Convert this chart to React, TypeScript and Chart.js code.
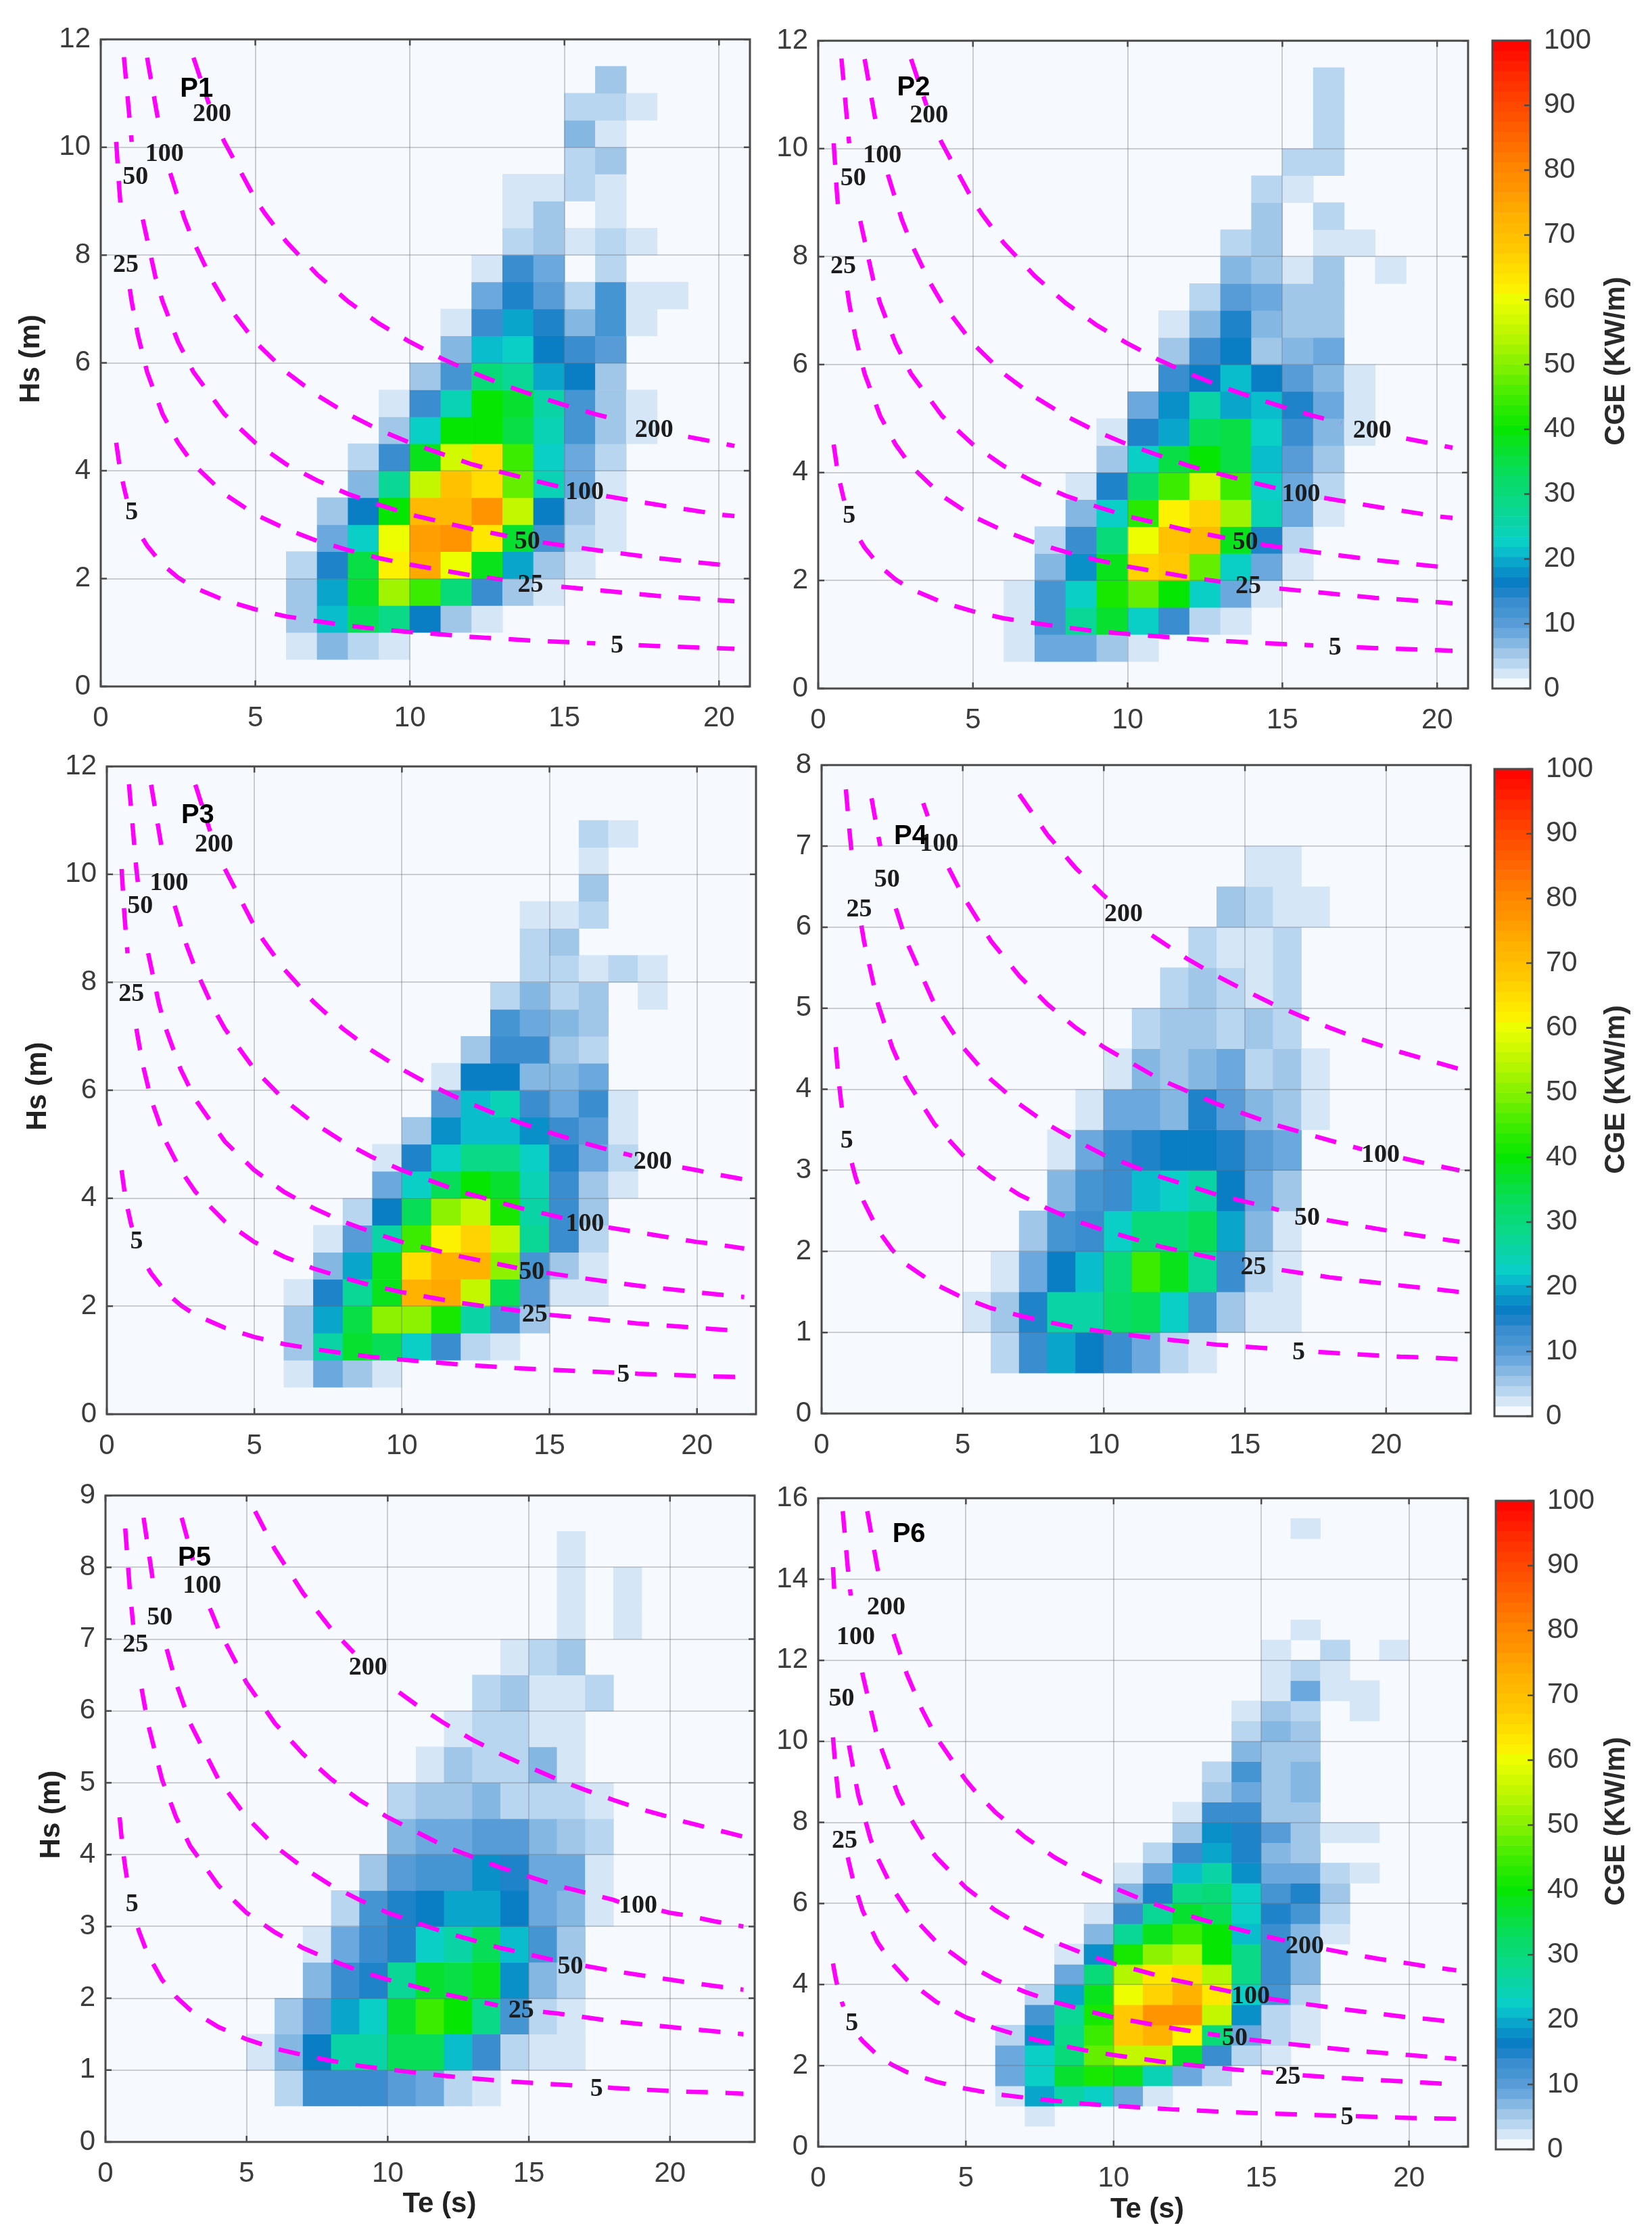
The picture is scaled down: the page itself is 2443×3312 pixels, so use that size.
import React, { useEffect, useRef } from "react";
import { Chart, registerables } from "chart.js";

Chart.register(...registerables);
Chart.defaults.font.family = '"Liberation Sans"';

// ---------- heat-map values: [Hs bin low edge, first Te bin, CGE per 1 s bin...] ----------
const P1_ROWS = [
  [0.5, 6, 2.3, 7, 4, 2.3],
  [1, 6, 5.5, 21, 34, 29, 16, 5.5, 2.3],
  [1.5, 6, 5.5, 19, 37, 52, 44, 31, 13.5, 6, 2.3],
  [2, 6, 4, 15.5, 35, 62, 74, 60, 39, 19, 6, 2.3],
  [2.5, 7, 8, 22.5, 60, 76, 77, 63, 36, 11.5, 4, 2.5],
  [3, 7, 5.5, 17, 40, 71, 71, 78, 55, 17, 5.5, 2.5],
  [3.5, 8, 7, 27, 55, 69, 65, 48, 24, 8, 2.5],
  [4, 8, 4, 14, 38, 57, 65, 45, 23, 8.5, 3.5],
  [4.5, 9, 6, 22, 40, 40, 35, 24, 12, 5.5, 2.3],
  [5, 9, 2.5, 12.5, 24, 40, 36, 25, 12, 5.5, 2.3],
  [5.5, 10, 5.5, 12, 31, 28, 19, 16, 5.5],
  [6, 11, 7, 21, 22, 17, 12.5, 10],
  [6.5, 11, 2.3, 12.5, 19, 14.5, 7, 11, 2.3],
  [7, 12, 9, 15, 10, 4, 11.5, 2.5, 2.5],
  [7.5, 12, 2.3, 12.5, 8, 0, 4],
  [8, 13, 4, 6, 2.3, 4, 2.3],
  [8.5, 13, 2.3, 5.5, 0, 2.5],
  [9, 13, 2.3, 2.3, 4, 2.5],
  [9.5, 15, 4, 5.5],
  [10, 15, 7, 2.3],
  [10.5, 15, 3.5, 3.5, 2.3],
  [11, 16, 5.5],
];
const P2_ROWS = [
  [0.5, 6, 2.3, 8, 9, 6, 2.3],
  [1, 6, 2.3, 11, 27, 36, 23, 14, 4, 2.3],
  [1.5, 6, 2.3, 11, 22, 42, 48, 40, 23, 9, 2.3],
  [2, 7, 7, 18, 38, 66, 68, 47, 23, 8, 2.3],
  [2.5, 7, 4, 14, 31, 60, 70, 71, 39, 15, 4],
  [3, 8, 7.5, 22, 43, 62, 67, 53, 24, 9, 2.3],
  [3.5, 8, 2.3, 14.5, 32, 44, 57, 44, 23, 9, 3.5],
  [4, 9, 5.5, 22, 35, 40, 35, 21, 9.5, 5],
  [4.5, 9, 2.3, 14.5, 20, 34, 35, 22, 12.5, 7, 2.3],
  [5, 10, 9, 18.5, 25, 20, 21, 15, 9, 2.3],
  [5.5, 11, 12.5, 17, 21, 17, 10, 7, 2.3],
  [6, 11, 5.5, 13, 17, 5.5, 7, 9],
  [6.5, 11, 2.3, 7, 14.5, 7, 5.5, 5.5],
  [7, 12, 4, 10, 9, 5.5, 5.5],
  [7.5, 13, 7, 5.5, 2.3, 5.5, 0, 2.5],
  [8, 13, 4, 5.5, 0, 2.3, 2.3],
  [8.5, 14, 5.5, 0, 4],
  [9, 14, 4, 2.3],
  [9.5, 15, 4, 4],
  [10, 16, 4],
  [10.5, 16, 4],
  [11, 16, 4],
];
const P3_ROWS = [
  [0.5, 6, 2.3, 9, 5.5, 2.3],
  [1, 6, 5.5, 25, 36, 34, 22, 13, 4, 2.3],
  [1.5, 6, 5.5, 20, 35, 50, 50, 42, 25, 11, 5],
  [2, 6, 2.3, 14.5, 27, 38, 72, 74, 56, 33, 10, 2.3, 2.3],
  [2.5, 7, 7, 20, 38, 65, 72, 72, 50, 11, 5.5, 2.5],
  [3, 7, 2.3, 10, 26, 44, 61, 66, 55, 27, 12.5, 4],
  [3.5, 8, 4, 17, 33, 50, 55, 42, 25, 12.5, 6],
  [4, 9, 9, 22, 34, 40, 36, 24, 13, 6, 2.5],
  [4.5, 9, 2.3, 15.5, 22, 29, 29, 22, 15.5, 9, 3.5],
  [5, 10, 5.5, 18, 21, 21, 18.5, 14, 10, 2.3],
  [5.5, 11, 10, 21, 24, 14, 9, 13, 2.3],
  [6, 11, 2.3, 16, 17, 7, 7, 9],
  [6.5, 12, 5.5, 13, 13, 5, 4],
  [7, 13, 11, 9, 6.5, 5.5],
  [7.5, 13, 4, 7, 4, 5.5, 0, 2.3],
  [8, 14, 4, 4, 2.3, 4, 2.3],
  [8.5, 14, 4, 5.5],
  [9, 14, 2.3, 2.3, 4],
  [9.5, 16, 5.5],
  [10, 16, 2.3],
  [10.5, 16, 4, 2.3],
];
const P4_ROWS = [
  [0.5, 6, 4, 13.5, 19, 16, 14, 8, 4, 2.3],
  [1, 5, 2.3, 5.5, 14.5, 25, 25, 32, 34, 23, 12, 5.5, 2.3, 2.3],
  [1.5, 6, 2.3, 9, 17, 21, 31, 44, 39, 28, 13, 4, 2.3],
  [2, 7, 5.5, 12, 14, 22, 30, 31, 34, 20, 7, 2.3],
  [2.5, 8, 7, 11, 14, 21, 22.5, 26, 16, 9, 5.5],
  [3, 8, 2.3, 8, 12.5, 15.5, 17, 17, 15.5, 10, 8.5],
  [3.5, 9, 2.3, 8.5, 8.5, 7, 14.5, 10, 7, 5.5, 2.3],
  [4, 10, 2.3, 7, 5.5, 7, 8.5, 4, 5.5, 2.3],
  [4.5, 11, 4, 5.5, 5.5, 4, 5.5, 4],
  [5, 12, 4, 5.5, 4, 2.3, 4],
  [5.5, 13, 4, 2.3, 2.3, 4],
  [6, 14, 5.5, 4, 2.3, 2.3],
  [6.5, 15, 2.3, 2.3],
];
const P5_ROWS = [
  [0.5, 6, 4, 12.5, 14, 14, 10, 8.5, 4, 2.3],
  [1, 5, 2.3, 7, 17, 26, 25, 33, 33, 21, 12.5, 4, 2.3, 2.3],
  [1.5, 6, 5.5, 10, 20, 22, 36, 45, 40, 29, 11, 4, 2.3],
  [2, 7, 7, 13.5, 15, 28, 36, 35, 38, 18.5, 7, 4],
  [2.5, 7, 2.3, 8.5, 12.5, 15.5, 23, 26, 33, 21, 12, 5.5],
  [3, 8, 4, 11, 14.5, 16, 19.5, 19.5, 16, 9, 7, 2.3],
  [3.5, 9, 5.5, 10, 12, 12, 18, 14.5, 9, 9, 2.3],
  [4, 10, 7, 8.5, 8.5, 10, 10, 7, 5.5, 4],
  [4.5, 10, 4, 5.5, 5.5, 7, 4.5, 4, 4, 2.3],
  [5, 11, 2.3, 5.5, 4, 4, 7, 2.3],
  [5.5, 12, 2.3, 4, 4, 2.3, 2.3],
  [6, 13, 4, 5.5, 2.3, 2.3, 4],
  [6.5, 14, 2.3, 4, 5.5],
  [7, 16, 2.3, 0, 2.3],
  [7.5, 16, 2.3, 0, 2.3],
  [8, 16, 2.3],
];
const P6_ROWS = [
  [0.5, 7, 2.3],
  [1, 6, 2.3, 19, 26, 22, 8.5, 2.3],
  [1.5, 6, 8, 22, 36, 41, 38, 24, 8, 4],
  [2, 6, 9, 22, 30, 47, 56, 55, 36, 13.5, 4, 2.3],
  [2.5, 6, 4, 18, 29, 44, 68, 72, 62, 31, 9, 4, 2.3],
  [3, 7, 12, 28, 42, 68, 78, 78, 55, 18, 4, 2.3],
  [3.5, 7, 4, 19, 38, 60, 67, 73, 63, 22, 11, 4],
  [4, 8, 9, 30, 54, 63, 65, 54, 29, 13, 7],
  [4.5, 8, 2.3, 18.5, 41, 50, 54, 40, 29, 13, 7],
  [5, 9, 7, 27, 38, 45, 40, 21, 13, 7, 2.3],
  [5.5, 9, 2.3, 14, 27, 36, 34, 22, 15, 12, 4],
  [6, 10, 7, 15, 29, 31, 22, 12, 15, 6],
  [6.5, 10, 2.3, 9, 20.5, 25, 18.5, 9, 9, 4, 2.3],
  [7, 11, 4, 13, 20, 15, 7, 5.5],
  [7.5, 12, 5.5, 18, 15, 10, 5, 2.3, 2.3],
  [8, 12, 2.3, 12.5, 12.5, 5, 5],
  [8.5, 13, 5.5, 9, 5, 7],
  [9, 13, 4, 11, 5, 7],
  [9.5, 14, 7, 5, 5.5],
  [10, 14, 4, 7, 5.5],
  [10.5, 14, 2.3, 5.5, 4, 0, 2.3],
  [11, 15, 2.3, 8, 2.3, 2.3],
  [11.5, 15, 2.3, 4, 2.3],
  [12, 15, 2.3, 0, 4, 0, 2.3],
  [12.5, 16, 2.3],
  [15, 16, 2.3],
];

// ---------- power iso-lines ----------
const CURVE_NAMES = ["5", "25", "50", "100", "200"];
const C5_TE = [0.5, 0.6, 0.7, 0.8, 1, 1.2, 1.5, 2, 2.5, 3, 4, 5, 6, 7, 8, 9, 10, 12, 14, 16, 18, 20, 20.5, 21.6, 22.6];
const C5_HS = [4.52, 4.12, 3.82, 3.57, 3.19, 2.92, 2.61, 2.26, 2.02, 1.84, 1.6, 1.43, 1.3, 1.21, 1.13, 1.06, 1.01, 0.92, 0.85, 0.8, 0.75, 0.71, 0.7, 0.69, 0.67];
const C25_TE = [0.5, 0.6, 0.7, 0.86, 1, 1.2, 1.5, 2, 2.5, 3, 4, 5, 6, 7, 8, 9, 10, 12, 14, 16, 18, 20, 20.5, 21.6, 22.6];
const C25_HS = [10.1, 9.22, 8.54, 7.7, 7.14, 6.52, 5.83, 5.05, 4.52, 4.12, 3.57, 3.19, 2.92, 2.7, 2.53, 2.38, 2.26, 2.06, 1.91, 1.79, 1.68, 1.6, 1.58, 1.54, 1.5];
const C50_TE = [0.5, 0.6, 0.75, 1, 1.35, 1.77, 2, 2.5, 3, 4, 5, 6, 7, 8, 9, 10, 12, 14, 16, 18, 20, 20.5, 21.6, 22.6];
const C50_HS = [14.3, 13.04, 11.67, 10.1, 8.69, 7.59, 7.14, 6.39, 5.83, 5.05, 4.52, 4.12, 3.82, 3.57, 3.37, 3.19, 2.92, 2.7, 2.53, 2.38, 2.26, 2.23, 2.17, 2.12];
const C100_TE = [0.83, 1, 1.2, 1.5, 2, 2.7, 3, 3.6, 4, 5, 6, 7, 8, 9, 10, 12, 14, 16, 18, 20, 20.5, 21.6, 22.6];
const C100_HS = [15.68, 14.29, 13.04, 11.66, 10.1, 8.69, 8.25, 7.53, 7.14, 6.39, 5.83, 5.4, 5.05, 4.76, 4.52, 4.12, 3.82, 3.57, 3.37, 3.19, 3.16, 3.07, 3.0];
const C200_TE = [1.66, 2, 2.5, 3, 3.5, 4, 5, 5.3, 6, 7, 8, 9, 10, 11, 12, 13, 14, 15, 16, 17, 18, 19, 20, 20.5, 21.6, 22.6];
const C200_HS = [15.68, 14.29, 12.78, 11.66, 10.8, 10.1, 9.04, 8.78, 8.25, 7.64, 7.14, 6.73, 6.39, 6.09, 5.83, 5.6, 5.4, 5.22, 5.05, 4.9, 4.76, 4.63, 4.52, 4.46, 4.35, 4.25];
const CURVES = [[C5_TE, C5_HS], [C25_TE, C25_HS], [C50_TE, C50_HS], [C100_TE, C100_HS], [C200_TE, C200_HS]];

// Breaks of each line around its printed label: [curve index, Te, Hs, Te, Hs]
const GAPS_P1 = [
  [4, 3.5, 10.8, 3.95, 10.16], [4, 16.9, 4.92, 19, 4.63],
  [3, 1.9, 10.36, 2.25, 9.52], [3, 14.95, 3.69, 16.35, 3.53],
  [2, 1, 10.1, 1.36, 8.66], [2, 13.15, 2.79, 14.3, 2.67],
  [1, 0.66, 8.79, 0.94, 7.37], [1, 13, 1.98, 14.9, 1.85],
  [0, 0.84, 3.48, 1.36, 2.74], [0, 16, 0.8, 17.4, 0.765],
];
const GAPS_P3 = [
  [4, 3.5, 10.8, 4, 10.1], [4, 17.8, 4.79, 19.5, 4.57],
  [3, 1.9, 10.36, 2.3, 9.42], [3, 15.5, 3.63, 17, 3.46],
  [2, 1.05, 9.86, 1.4, 8.54], [2, 13.9, 2.71, 14.9, 2.62],
  [1, 0.7, 8.54, 1, 7.14], [1, 14, 1.91, 15, 1.84],
  [0, 0.85, 3.46, 1.4, 2.7], [0, 17.2, 0.77, 17.9, 0.755],
];
const GAPS_P4 = [
  [3, 3.76, 7.37, 4.5, 6.73], [3, 19.15, 3.26, 20.6, 3.15],
  [2, 2.08, 7, 2.63, 6.23], [2, 16.2, 2.51, 17.9, 2.39],
  [1, 1.07, 6.9, 1.41, 6.02], [1, 14.5, 1.88, 16.3, 1.77],
  [0, 0.77, 3.64, 1.07, 3.09], [0, 16.3, 0.79, 17.6, 0.76],
  [4, 10.1, 6.36, 11.7, 5.9],
];
const GAPS_P5 = [
  [3, 3.1, 8.1, 3.7, 7.43], [3, 18.2, 3.34, 19.7, 3.22],
  [2, 1.75, 7.63, 2.17, 6.86], [2, 15.9, 2.53, 17, 2.45],
  [1, 0.98, 7.2, 1.28, 6.31], [1, 13.9, 1.9, 15.5, 1.81],
  [0, 0.8, 3.57, 1.15, 2.98], [0, 16.9, 0.78, 17.8, 0.757],
  [4, 8.8, 6.81, 10.4, 6.26],
];
const GAPS_P6 = [
  [4, 2.1, 13.95, 2.55, 12.65], [4, 15.8, 5.08, 17.2, 4.87],
  [3, 1.1, 13.6, 1.49, 11.7], [3, 14, 3.82, 15.2, 3.66],
  [2, 0.56, 13.5, 1.04, 9.9], [2, 13.6, 2.74, 14.6, 2.64],
  [1, 0.75, 8.25, 1, 7.14], [1, 15.4, 1.82, 16.4, 1.76],
  [0, 0.85, 3.46, 1.4, 2.7], [0, 17.7, 0.76, 18.2, 0.75],
];

// Printed labels: [text, Te, Hs]
const LABELS_P1 = [["200", 3.6, 10.63], ["100", 2.06, 9.89], ["50", 1.12, 9.47], ["25", 0.81, 7.84], ["5", 1, 3.24], ["200", 17.9, 4.78], ["100", 15.65, 3.62], ["50", 13.8, 2.71], ["25", 13.9, 1.9], ["5", 16.7, 0.78]];
const LABELS_P2 = [["200", 3.58, 10.63], ["100", 2.07, 9.9], ["50", 1.13, 9.47], ["25", 0.81, 7.84], ["5", 1, 3.22], ["200", 17.9, 4.79], ["100", 15.6, 3.62], ["50", 13.8, 2.73], ["25", 13.9, 1.91], ["5", 16.7, 0.78]];
const LABELS_P3 = [["200", 3.63, 10.57], ["100", 2.11, 9.86], ["50", 1.13, 9.43], ["25", 0.83, 7.8], ["5", 1.01, 3.22], ["200", 18.5, 4.69], ["100", 16.2, 3.54], ["50", 14.4, 2.65], ["25", 14.5, 1.86], ["5", 17.5, 0.75]];
const LABELS_P4 = [["100", 4.16, 7.04], ["50", 2.32, 6.6], ["25", 1.33, 6.23], ["5", 0.89, 3.38], ["200", 10.7, 6.17], ["100", 19.8, 3.2], ["50", 17.2, 2.43], ["25", 15.3, 1.82], ["5", 16.9, 0.77]];
const LABELS_P5 = [["100", 3.42, 7.76], ["50", 1.92, 7.31], ["25", 1.06, 6.94], ["5", 0.94, 3.32], ["200", 9.3, 6.62], ["100", 18.87, 3.3], ["50", 16.47, 2.46], ["25", 14.73, 1.84], ["5", 17.4, 0.75]];
const LABELS_P6 = [["200", 2.3, 13.33], ["100", 1.27, 12.6], ["50", 0.79, 11.07], ["25", 0.89, 7.58], ["5", 1.14, 3.07], ["200", 16.47, 4.97], ["100", 14.64, 3.74], ["50", 14.1, 2.7], ["25", 15.9, 1.75], ["5", 17.9, 0.74]];

const COLORBAR_TICKS = [0, 10, 20, 30, 40, 50, 60, 70, 80, 90, 100];

// ---------- colour map ----------
const STOP_VALUES = [0.8, 2.3, 3.9, 5.5, 7, 8.6, 10.2, 11.7, 13.3, 14.8, 16.4, 18, 19.5, 21, 22.6, 24.2, 28, 33, 38, 40, 45, 49, 53, 56, 60, 62, 65, 68, 73, 77, 80, 85, 90, 95, 100];
const STOP_COLORS = ["#F6FAFE", "#D6E6F6", "#B9D6F0", "#9FC6E8", "#85B8E2", "#6AA8DD", "#569CD6", "#4595D2", "#3A8ECF", "#1F83C8", "#0A7EC4", "#0A90C8", "#0AA5CA", "#0ABCCC", "#0ACFC8", "#0AD2B4", "#0AD890", "#08DC60", "#08E220", "#06E600", "#40EC00", "#78F000", "#A8F500", "#C8F800", "#ECFF00", "#FFF000", "#FFDC00", "#FFC800", "#FFB000", "#FF9600", "#FF8800", "#FF6600", "#FF4800", "#FF2800", "#FF0000"];
const LEVELS = 64;
const rgb = (h: string) => [1, 3, 5].map((i) => parseInt(h.slice(i, i + 2), 16));
function colorOf(v: number) {
  const q = ((Math.min(LEVELS - 1, Math.floor((v / 100) * LEVELS)) + 0.5) * 100) / LEVELS;
  if (q <= STOP_VALUES[0]) return STOP_COLORS[0];
  for (let i = 1; i < STOP_VALUES.length; i++) {
    if (q <= STOP_VALUES[i]) {
      const t = (q - STOP_VALUES[i - 1]) / (STOP_VALUES[i] - STOP_VALUES[i - 1]);
      const a = rgb(STOP_COLORS[i - 1]);
      const b = rgb(STOP_COLORS[i]);
      return `rgb(${a.map((c, k) => Math.round(c + (b[k] - c) * t)).join(",")})`;
    }
  }
  return "#FF0000";
}

// ---------- layout ----------
const INK = "#3c3c3c";
const PLOT_BG = "#F6FAFE";
const TICK_FONT = { size: 42, family: '"Liberation Sans"' };
const TITLE_FONT = { size: 42, weight: "bold", family: '"Liberation Sans"' };

const PANELS = [
  { name: "P1", rows: P1_ROWS, gaps: GAPS_P1, labels: LABELS_P1, plot: [149, 58, 1109, 1015], canvasL: 0, canvasR: 1125, extraB: 70, xMax: 21, yMax: 12, yStep: 2, hsLimit: 11.75, teEnd: 20.5, tag: [3.1, 11.08], yTitlePad: 21, yShift: -6 },
  { name: "P2", rows: P2_ROWS, gaps: GAPS_P1, labels: LABELS_P2, plot: [1210, 60, 2171, 1018], canvasL: 1130, canvasR: 2185, extraB: 70, xMax: 21, yMax: 12, yStep: 2, hsLimit: 11.75, teEnd: 20.5, tag: [3.08, 11.12] },
  { name: "P3", rows: P3_ROWS, gaps: GAPS_P3, labels: LABELS_P3, plot: [158, 1133, 1118, 2091], canvasL: 0, canvasR: 1125, extraB: 70, xMax: 22, yMax: 12, yStep: 2, hsLimit: 11.75, teEnd: 21.6, tag: [3.08, 11.09], yTitlePad: 31, yShift: -6 },
  { name: "P4", rows: P4_ROWS, gaps: GAPS_P4, labels: LABELS_P4, plot: [1215, 1131, 2175, 2090], canvasL: 1130, canvasR: 2190, extraB: 70, xMax: 23, yMax: 8, yStep: 1, hsLimit: 7.75, teEnd: 22.6, tag: [3.15, 7.12] },
  { name: "P5", rows: P5_ROWS, gaps: GAPS_P5, labels: LABELS_P5, plot: [156, 2211, 1116, 3167], canvasL: 0, canvasR: 1125, extraB: 140, xMax: 23, yMax: 9, yStep: 1, hsLimit: 8.8, teEnd: 22.6, tag: [3.15, 8.13], yTitlePad: 51, xTitlePad: 22, yShift: -6, xShift: 14 },
  { name: "P6", rows: P6_ROWS, gaps: GAPS_P6, labels: LABELS_P6, plot: [1210, 2215, 2171, 3174], canvasL: 1130, canvasR: 2185, extraB: 138, xMax: 22, yMax: 16, yStep: 2, hsLimit: 15.75, teEnd: 21.6, tag: [3.07, 15.1], xTitlePad: 19, xShift: 6 },
];
const COLORBARS = [
  { plot: [2207, 60, 2263, 1018], titleY: 534 },
  { plot: [2210, 1137, 2266, 2094], titleY: 1611 },
  { plot: [2212, 2219, 2268, 3178], titleY: 2693 },
];

function nudgeTitle(scale: any, dx: number, dy: number) {
  if (scale.__nudged) return;
  scale.__nudged = true;
  const draw = scale.drawTitle.bind(scale);
  scale.drawTitle = (...args: any[]) => {
    scale.ctx.save();
    scale.ctx.translate(dx, dy);
    draw(...args);
    scale.ctx.restore();
  };
}

function drawFrame(chart: any, tickLen: number, sides: string) {
  const { ctx, chartArea: a } = chart;
  ctx.save();
  ctx.strokeStyle = "#4a4a4a";
  ctx.lineWidth = 3;
  ctx.strokeRect(a.left, a.top, a.right - a.left, a.bottom - a.top);
  ctx.lineWidth = 2.5;
  ctx.beginPath();
  if (sides.includes("r") || sides.includes("l")) {
    for (const t of chart.scales.y.ticks) {
      const p = chart.scales.y.getPixelForValue(t.value);
      if (sides.includes("l")) { ctx.moveTo(a.left, p); ctx.lineTo(a.left + tickLen, p); }
      if (sides.includes("r")) { ctx.moveTo(a.right, p); ctx.lineTo(a.right - tickLen, p); }
    }
  }
  if (sides.includes("b")) {
    for (const t of chart.scales.x.ticks) {
      const p = chart.scales.x.getPixelForValue(t.value);
      ctx.moveTo(p, a.bottom); ctx.lineTo(p, a.bottom - tickLen);
      ctx.moveTo(p, a.top); ctx.lineTo(p, a.top + tickLen);
    }
  }
  ctx.stroke();
  ctx.restore();
}

function cellsOf(rows: number[][]) {
  const out: any[] = [];
  for (const r of rows) {
    const [hs, te, ...vals] = r;
    vals.forEach((v, i) => {
      if (v > 0) out.push({ x: te + i + 0.5, y: [hs, hs + 0.5], v });
    });
  }
  return out;
}

function curveData(idx: number, p: any) {
  const [te, hs] = CURVES[idx];
  const pts: any[] = [];
  te.forEach((t, i) => {
    if (t <= p.teEnd && hs[i] <= p.hsLimit) pts.push({ x: t, y: hs[i] });
  });
  const gaps = p.gaps.filter((g: number[]) => g[0] === idx).sort((a: number[], b: number[]) => a[1] - b[1]);
  let res = pts;
  for (const g of gaps) {
    const before = res.filter((q) => q.x < g[1]);
    const after = res.filter((q) => q.x > g[3]);
    res = [...before, { x: g[1], y: g[2] }, { x: (g[1] + g[3]) / 2, y: null }, { x: g[3], y: g[4] }, ...after];
  }
  return res;
}

function panelConfig(p: any) {
  const [l, t, r, b] = p.plot;
  const cells = cellsOf(p.rows);
  const lines = CURVE_NAMES.map((name, idx) => ({
    type: "line",
    label: `${name} kW/m`,
    data: curveData(idx, p),
    borderColor: "#FF00FF",
    borderWidth: 6.5,
    borderDash: [32, 26],
    borderCapStyle: "butt",
    pointRadius: 0,
    tension: 0,
    fill: false,
    spanGaps: false,
    order: 0,
  }));
  const overlay = {
    id: "panelOverlay",
    beforeDraw(chart: any) {
      const { ctx, chartArea: a } = chart;
      ctx.save();
      ctx.fillStyle = PLOT_BG;
      ctx.fillRect(a.left, a.top, a.right - a.left, a.bottom - a.top);
      ctx.restore();
    },
    afterDraw(chart: any) {
      const { ctx, scales } = chart;
      drawFrame(chart, 9, "lrb");
      ctx.save();
      ctx.textAlign = "center";
      ctx.textBaseline = "middle";
      ctx.fillStyle = "#1c1c1c";
      ctx.font = 'bold 38px "Liberation Serif"';
      for (const [txt, x, y] of p.labels) {
        ctx.fillText(txt, scales.x.getPixelForValue(x), scales.y.getPixelForValue(y) + 2);
      }
      ctx.fillStyle = "#000";
      ctx.font = 'bold 40px "Liberation Sans"';
      ctx.fillText(p.name, scales.x.getPixelForValue(p.tag[0]), scales.y.getPixelForValue(p.tag[1]));
      ctx.restore();
    },
  };
  const canvasT = t - 40;
  const canvasB = b + p.extraB;
  return {
    width: p.canvasR - p.canvasL,
    height: canvasB - canvasT,
    left: p.canvasL,
    top: canvasT,
    config: {
      type: "bar",
      plugins: [overlay],
      data: {
        datasets: [
          {
            type: "bar",
            label: "CGE (KW/m)",
            data: cells,
            backgroundColor: cells.map((c) => colorOf(c.v)),
            borderWidth: 0,
            barPercentage: 1,
            categoryPercentage: 1,
            grouped: false,
            order: 1,
          },
          ...lines,
        ],
      },
      options: {
        animation: false,
        responsive: false,
        devicePixelRatio: 1,
        events: [],
        layout: { padding: { top: 40, right: p.canvasR - r, left: 0, bottom: 0 } },
        plugins: { legend: { display: false }, tooltip: { enabled: false }, title: { display: false } },
        scales: {
          x: {
            type: "linear",
            min: 0,
            max: p.xMax,
            offset: false,
            afterFit: (s: any) => {
              s.height = canvasB - b;
              if (p.xShift) nudgeTitle(s, p.xShift, 0);
            },
            grid: { offset: false, color: "rgba(105,110,120,0.32)", lineWidth: 2, z: 1, drawTicks: false },
            border: { display: false },
            ticks: { stepSize: 5, includeBounds: false, color: INK, font: TICK_FONT, padding: 22, maxRotation: 0 },
            title: p.xTitlePad
              ? { display: true, text: "Te (s)", color: "#222", font: TITLE_FONT, padding: { top: 0, bottom: p.xTitlePad } }
              : { display: false },
          },
          y: {
            type: "linear",
            min: 0,
            max: p.yMax,
            afterFit: (s: any) => {
              s.width = l - p.canvasL;
              if (p.yShift) nudgeTitle(s, 0, p.yShift);
            },
            grid: { color: "rgba(105,110,120,0.32)", lineWidth: 2, z: 1, drawTicks: false },
            border: { display: false },
            ticks: { stepSize: p.yStep, includeBounds: false, color: INK, font: TICK_FONT, padding: 15 },
            title: p.yTitlePad
              ? { display: true, text: "Hs (m)", color: "#222", font: TITLE_FONT, padding: { top: p.yTitlePad, bottom: 0 } }
              : { display: false },
          },
        },
      },
    },
  };
}

function colorbarConfig(cb: any) {
  const [l, t, r, b] = cb.plot;
  const levels = Array.from({ length: LEVELS }, (_, i) => ((i + 0.5) * 100) / LEVELS);
  const canvasL = l - 6;
  const canvasR = 2443;
  const pad = 60;
  const overlay = {
    id: "cbOverlay",
    afterDraw(chart: any) {
      drawFrame(chart, 9, "r");
      const { ctx } = chart;
      ctx.save();
      ctx.translate(2390 - canvasL, cb.titleY - (t - pad));
      ctx.rotate(-Math.PI / 2);
      ctx.textAlign = "center";
      ctx.textBaseline = "middle";
      ctx.fillStyle = "#2a2a2a";
      ctx.font = 'bold 42px "Liberation Sans"';
      ctx.fillText("CGE (KW/m)", 0, 0);
      ctx.restore();
    },
  };
  return {
    width: canvasR - canvasL,
    height: b - t + 2 * pad,
    left: canvasL,
    top: t - pad,
    config: {
      type: "bar",
      plugins: [overlay],
      data: {
        datasets: [
          {
            label: "CGE (KW/m)",
            data: levels.map((y) => ({ x: 1, y })),
            backgroundColor: levels.map((y) => colorOf(y)),
            borderWidth: 0,
            barPercentage: 1,
            categoryPercentage: 1,
            grouped: false,
          },
        ],
      },
      options: {
        indexAxis: "y",
        animation: false,
        responsive: false,
        devicePixelRatio: 1,
        events: [],
        layout: { padding: { top: pad, bottom: pad, left: 6, right: 0 } },
        plugins: { legend: { display: false }, tooltip: { enabled: false } },
        scales: {
          x: { type: "linear", min: 0, max: 1, display: false, offset: false, grid: { display: false } },
          y: {
            type: "linear",
            position: "right",
            min: COLORBAR_TICKS[0],
            max: COLORBAR_TICKS[COLORBAR_TICKS.length - 1],
            offset: false,
            afterFit: (s: any) => { s.width = canvasR - r; },
            grid: { display: false, offset: false, drawTicks: false },
            border: { display: false },
            ticks: { stepSize: 10, color: INK, font: TICK_FONT, padding: 20 },
          },
        },
      },
    },
  };
}

function ChartBox({ spec }: { spec: any }) {
  const ref = useRef<HTMLCanvasElement>(null);
  useEffect(() => {
    const chart = new Chart(ref.current as any, spec.config as any);
    return () => chart.destroy();
  }, []);
  return (
    <canvas
      ref={ref}
      width={spec.width}
      height={spec.height}
      style={{ position: "absolute", left: spec.left, top: spec.top, width: spec.width, height: spec.height, display: "block" }}
    />
  );
}

export default function App() {
  return (
    <div style={{ position: "absolute", left: 0, top: 0, width: 2443, height: 3312, background: "#fff", overflow: "hidden" }}>
      {PANELS.map((p) => (
        <ChartBox key={p.name} spec={panelConfig(p)} />
      ))}
      {COLORBARS.map((c, i) => (
        <ChartBox key={i} spec={colorbarConfig(c)} />
      ))}
    </div>
  );
}
